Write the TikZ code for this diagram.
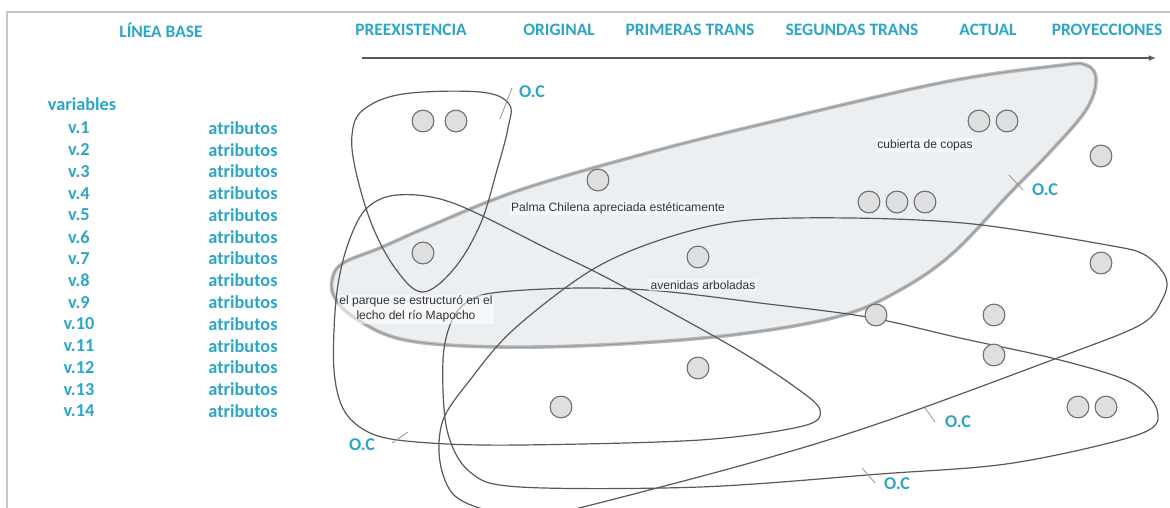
\documentclass[tikz,border=0pt]{standalone}
\usepackage{fontspec}
\setmainfont{Carlito}
\newfontfamily\labelfont{Liberation Sans}
\usetikzlibrary{arrows.meta}
\definecolor{tealtxt}{HTML}{2BA5C8}
\definecolor{dotfill}{HTML}{DEDFE1}
\definecolor{dotline}{HTML}{6F6F6F}
\definecolor{curveline}{HTML}{585858}
\definecolor{shadefill}{HTML}{ECEFF2}
\tikzset{
  head/.style={text=tealtxt, font=\fontsize{12.4}{14}\selectfont\bfseries},
  var/.style={text=tealtxt, font=\fontsize{13}{14}\selectfont\bfseries},
  oc/.style={text=tealtxt, font=\fontsize{12.8}{14}\selectfont\bfseries},
  dot/.style={circle, draw=dotline, fill=dotfill, line width=0.8pt, minimum size=15.5pt, inner sep=0pt},
  note/.style={text=black!80, font=\labelfont\fontsize{8.6}{10.5}\selectfont, fill=white, fill opacity=0.55, text opacity=1, inner sep=1pt, align=center},
  loop/.style={draw=curveline, line width=0.85pt},
  tick/.style={draw=black!40, line width=0.6pt},
}
\begin{document}
\begin{tikzpicture}[x=0.025cm, y=-0.025cm]
        \useasboundingbox (0,0) rectangle (1170,507);
        \clip (0,0) rectangle (1170,507);
        % frame
            \draw[black!22, line width=1.4pt] (7,520) -- (7,12) -- (1180,12);
        % headings
            \foreach \x/\t in {161/LÍNEA BASE,411/PREEXISTENCIA,559/ORIGINAL,690/PRIMERAS TRANS,852/SEGUNDAS TRANS,988/ACTUAL,1107/PROYECCIONES}{
                \node[head] at (\x,30) {\t};
            }
            \coordinate (tstart) at (362,58);
            \coordinate (tend) at (1156,58);
            \draw[curveline, line width=0.8pt, -{Latex[length=5pt,width=4pt]}] (tstart) -- (tend);
        % variables
            \node[var, anchor=west] (vars) at (43,104) {variables};
            \foreach \i in {1,...,14}{
                \node[var] (v\i) at (79,128+21.77*\i-21.77) {v.\i};
                \node[var] (at\i) at (243,128+21.77*\i-21.77) {atributos};
            }
        % shaded group
            \draw[black!28, line width=2.6pt, fill=shadefill] plot[smooth cycle, tension=0.6] coordinates {
                (345,262) (380,248) (430,226) (520,190) (640,155) (750,127) (940,83)
                (1055,66) (1086,65) (1096,80) (1086,110) (1050,152) (1010,193) (953,253)
                (900,290) (840,316) (740,334) (620,344) (500,347) (405,340) (355,318) (334,296) (333,276)};
            \draw[black!40, line width=0.7pt] plot[smooth cycle, tension=0.6] coordinates {
                (345,262) (380,248) (430,226) (520,190) (640,155) (750,127) (940,83)
                (1055,66) (1086,65) (1096,80) (1086,110) (1050,152) (1010,193) (953,253)
                (900,290) (840,316) (740,334) (620,344) (500,347) (405,340) (355,318) (334,296) (333,276)};
        % groups
            \draw[loop] plot[smooth cycle, tension=0.6] coordinates {
                (363,110) (403,94) (480,92) (509,104) (508,128) (497,170) (480,225)
                (453,270) (422,292) (395,268) (372,225) (356,172) (352,135)};
            \draw[loop] plot[smooth cycle, tension=0.55] coordinates {
                (397,195) (453,203) (550,250) (613,281) (733,347) (795,387) (820,410)
                (803,426) (700,440) (520,445) (430,443) (375,435) (345,412) (334,370)
                (336,300) (346,250) (365,210)};
            \draw[loop] plot[smooth cycle, tension=0.55] coordinates {
                (500,292) (580,288) (660,291) (760,303) (867,317) (960,338) (1060,360)
                (1130,382) (1157,410) (1140,434) (1013,463) (880,474) (700,487) (520,487)
                (470,472) (447,430) (443,360) (452,320) (470,300)};
            \draw[loop] plot[smooth cycle, tension=0.55] coordinates {
                (1166,278) (1145,255) (1107,245) (973,224) (850,218) (740,221) (660,240) (590,271)
                (513,330) (470,380) (443,420) (440,462) (455,496) (495,512) (545,514)
                (583,507) (750,463) (880,423) (1060,357) (1140,325) (1162,300)};
        % points
            \foreach \n/\x/\y in {c1/423/121,c2/456/121,c3/979/121,c4/1007/121,c5/1101/156,
                c6/598/180,c7/869/202,c8/897/202,c9/925/202,c10/423/253,c11/698/257,
                c12/1101/263,c13/876/315,c14/994/315,c15/994/355,c16/698/368,
                c17/561/407,c18/1078/407,c19/1106/407}{
                \node[dot] (\n) at (\x,\y) {};
            }
        % notes
            \node[note] (copas) at (925,145) {cubierta de copas};
            \node[note] (palma) at (618,208) {Palma Chilena apreciada estéticamente};
            \node[note] (aven) at (703,285) {avenidas arboladas};
            \node[note] (parque) at (416,309) {el parque se estructuró en el\\lecho del río Mapocho};
        % labels
            \node[oc] (ocA) at (532,92) {O.C};
            \node[oc] (ocS) at (1045,190) {O.C};
            \node[oc] (ocB) at (362,445) {O.C};
            \node[oc] (ocD) at (958,422) {O.C};
            \node[oc] (ocC) at (897,484) {O.C};
            \foreach \a/\b/\c/\d/\e in {A/512/88/500/119,S/1009/175/1023/190,B/392/443/408/432,D/925/408/935/422,C/862/468/875/483}{
                \coordinate (t\a1) at (\b,\c);
                \coordinate (t\a2) at (\d,\e);
                \draw[tick] (t\a1) -- (t\a2);
            }
        \end{tikzpicture}
\end{document}
